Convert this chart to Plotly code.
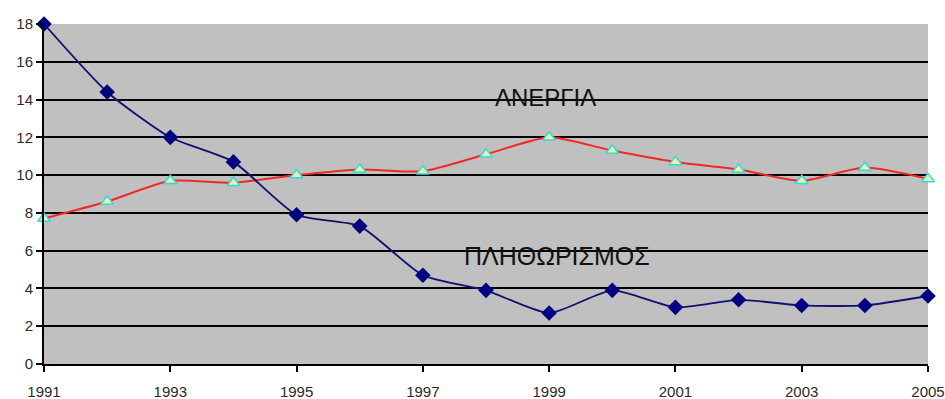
import plotly.graph_objects as go

years = list(range(1991, 2006))
inflation = [18.0, 14.4, 12.0, 10.7, 7.9, 7.3, 4.7, 3.9, 2.7, 3.9, 3.0, 3.4, 3.1, 3.1, 3.6]
unemployment = [7.7, 8.6, 9.7, 9.6, 10.0, 10.3, 10.2, 11.1, 12.0, 11.3, 10.7, 10.3, 9.7, 10.4, 9.8]
x_tick_years = list(range(1991, 2006, 2))
y_ticks = list(range(0, 19, 2))

fig = go.Figure()

fig.add_trace(go.Scatter(
    x=years, y=unemployment, mode="lines+markers",
    line=dict(color="#f02828", width=2, shape="spline", smoothing=0.6),
    marker=dict(symbol="triangle-up", size=11, color="#e8f5a0",
                line=dict(color="#30d8e8", width=1.5)),
    cliponaxis=False, showlegend=False,
))
fig.add_trace(go.Scatter(
    x=years, y=inflation, mode="lines+markers",
    line=dict(color="#10106e", width=1.8, shape="spline", smoothing=0.6),
    marker=dict(symbol="diamond", size=12, color="#000080",
                line=dict(color="#000080", width=0)),
    cliponaxis=False, showlegend=False,
))

fig.add_annotation(x=1998.95, y=14.1, text="ΑΝΕΡΓΙΑ", showarrow=False,
                   font=dict(family="Liberation Sans", size=24, color="#111111"))
fig.add_annotation(x=1999.12, y=5.7, text="ΠΛΗΘΩΡΙΣΜΟΣ", showarrow=False,
                   font=dict(family="Liberation Sans", size=25, color="#111111"))

fig.update_layout(
    width=945, height=399,
    margin=dict(l=44, r=17, t=24, b=35),
    paper_bgcolor="white", plot_bgcolor="#c0c0c0",
    font=dict(family="Liberation Sans", size=15, color="#2a2a2a"),
)
fig.update_xaxes(
    range=[1991, 2005], tickvals=x_tick_years, ticktext=[str(v) for v in x_tick_years],
    showgrid=False, zeroline=False, showline=True, linecolor="black", linewidth=2,
    ticks="outside", ticklen=6, tickcolor="black", tickwidth=1.5,
    ticklabelstandoff=7, tickfont=dict(size=15), automargin=False,
)
fig.update_yaxes(
    range=[0, 18], tickvals=y_ticks,
    showgrid=True, gridcolor="black", gridwidth=1.5, zeroline=False,
    showline=True, linecolor="black", linewidth=2,
    ticks="outside", ticklen=6, tickcolor="black", tickwidth=1.5,
    tickfont=dict(size=15), automargin=False,
)

fig.write_html("out.html")
